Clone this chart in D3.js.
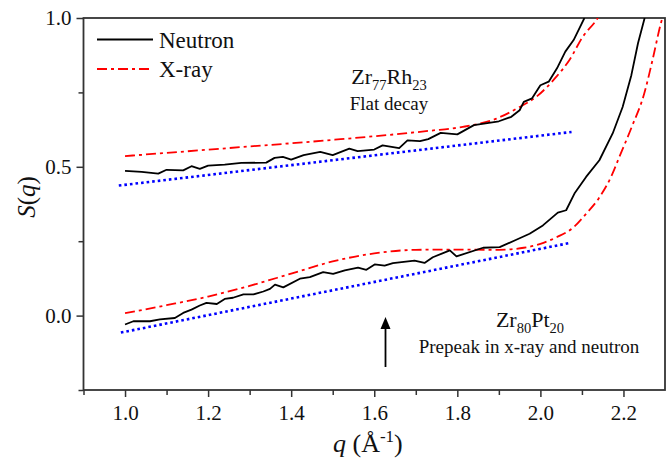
<!DOCTYPE html>
<html>
<head>
<meta charset="utf-8">
<script src="https://cdn.jsdelivr.net/npm/d3@7/dist/d3.min.js"></script>
<style>
  html, body { margin: 0; padding: 0; background: #fff; }
  svg { display: block; font-family: "Liberation Serif", "Times New Roman", serif; }
</style>
</head>
<body>
<svg id="chart" width="670" height="464"></svg>
<script>
// Axis ranges and ticks
const qDomain = [0.9, 2.3];
const sDomain = [-0.25, 1.0];
const qMajorTicks = [1.0, 1.2, 1.4, 1.6, 1.8, 2.0, 2.2];
const qMinorTicks = [0.9, 1.1, 1.3, 1.5, 1.7, 1.9, 2.1];
const sMajorTicks = [0.0, 0.5, 1.0];
const sMinorTicks = [-0.25, 0.25, 0.75];

// Zr77Rh23 — neutron S(q)
const rhNeutronQ = [1.00, 1.04, 1.08, 1.10, 1.14, 1.16, 1.18, 1.20, 1.24, 1.28, 1.34, 1.36, 1.38, 1.40, 1.43, 1.47, 1.50, 1.54, 1.56, 1.60, 1.62, 1.66, 1.68, 1.71, 1.73, 1.76, 1.80, 1.84, 1.90, 1.93, 1.95, 1.96, 1.98, 2.00, 2.02, 2.04, 2.06, 2.08, 2.106];
const rhNeutronS = [0.486, 0.483, 0.477, 0.490, 0.488, 0.502, 0.493, 0.504, 0.507, 0.513, 0.514, 0.530, 0.533, 0.524, 0.539, 0.550, 0.539, 0.561, 0.553, 0.558, 0.572, 0.563, 0.589, 0.586, 0.593, 0.614, 0.609, 0.640, 0.653, 0.668, 0.690, 0.718, 0.730, 0.774, 0.786, 0.831, 0.887, 0.926, 1.0];

// Zr77Rh23 — x-ray S(q)
const rhXrayQ = [1.00, 1.25, 1.505, 1.733, 1.813, 1.894, 1.95, 1.99, 2.038, 2.07, 2.102, 2.138, 2.15];
const rhXrayS = [0.536, 0.563, 0.591, 0.621, 0.634, 0.662, 0.701, 0.735, 0.802, 0.859, 0.937, 1.0, 1.03];

// Zr77Rh23 — linear low-q trend
const rhTrendQ = [0.985, 2.075];
const rhTrendS = [0.437, 0.617];

// Zr80Pt20 — neutron S(q)
const ptNeutronQ = [1.000, 1.020, 1.060, 1.084, 1.120, 1.140, 1.160, 1.180, 1.196, 1.221, 1.240, 1.260, 1.285, 1.309, 1.333, 1.349, 1.361, 1.381, 1.421, 1.445, 1.477, 1.501, 1.529, 1.561, 1.581, 1.601, 1.625, 1.645, 1.697, 1.721, 1.741, 1.782, 1.798, 1.862, 1.902, 1.942, 1.974, 2.006, 2.042, 2.062, 2.082, 2.110, 2.142, 2.174, 2.198, 2.219, 2.235, 2.251];
const ptNeutronS = [-0.030, -0.019, -0.019, -0.013, -0.008, 0.009, 0.020, 0.034, 0.043, 0.039, 0.056, 0.060, 0.071, 0.071, 0.081, 0.090, 0.104, 0.095, 0.124, 0.129, 0.146, 0.140, 0.152, 0.161, 0.154, 0.172, 0.168, 0.176, 0.185, 0.177, 0.196, 0.219, 0.199, 0.228, 0.230, 0.255, 0.275, 0.303, 0.346, 0.354, 0.410, 0.466, 0.522, 0.612, 0.701, 0.808, 0.915, 1.0];

// Zr80Pt20 — x-ray S(q)
const ptXrayQ = [1.00, 1.10, 1.20, 1.30, 1.40, 1.50, 1.60, 1.70, 1.80, 1.90, 1.96, 2.00, 2.04, 2.08, 2.11, 2.14, 2.17, 2.19, 2.22, 2.25, 2.27, 2.29, 2.30];
const ptXrayS = [0.008, 0.035, 0.064, 0.100, 0.141, 0.182, 0.209, 0.221, 0.222, 0.221, 0.228, 0.241, 0.264, 0.297, 0.342, 0.393, 0.466, 0.533, 0.634, 0.746, 0.859, 0.982, 1.03];

// Zr80Pt20 — linear low-q trend
const ptTrendQ = [0.99, 2.074];
const ptTrendS = [-0.057, 0.245];

// Legend entries
const legendLabels = ["Neutron", "X-ray"];

const svg = d3.select("#chart");
const frame = { left: 83.5, right: 665, top: 18, bottom: 390 };

const x = d3.scaleLinear().domain(qDomain).range([frame.left, frame.right]);
const y = d3.scaleLinear().domain(sDomain).range([frame.bottom, frame.top]);

const axisColor = "#333";
const zip = (qs, ss) => qs.map((q, i) => [q, ss[i]]);

svg.append("defs").append("clipPath").attr("id", "plot-clip")
  .append("rect")
  .attr("x", frame.left).attr("y", frame.top)
  .attr("width", frame.right - frame.left).attr("height", frame.bottom - frame.top);

// Axes with outward ticks
function styleAxis(g) {
  g.selectAll(".domain").remove();
  g.selectAll(".tick line").attr("stroke", axisColor).attr("stroke-width", 1.5);
}

const xMajor = svg.append("g").attr("transform", `translate(0,${frame.bottom})`)
  .call(d3.axisBottom(x).tickValues(qMajorTicks).tickSize(7).tickPadding(8).tickFormat(d3.format(".1f")));
styleAxis(xMajor);
xMajor.selectAll("text").attr("font-size", 21).attr("fill", "#111").attr("font-family", "Liberation Serif, serif");

const xMinor = svg.append("g").attr("transform", `translate(0,${frame.bottom})`)
  .call(d3.axisBottom(x).tickValues(qMinorTicks).tickSize(5).tickFormat(""));
styleAxis(xMinor);

const yMajor = svg.append("g").attr("transform", `translate(${frame.left},0)`)
  .call(d3.axisLeft(y).tickValues(sMajorTicks).tickSize(7).tickPadding(5).tickFormat(d3.format(".1f")));
styleAxis(yMajor);
yMajor.selectAll("text").attr("font-size", 21).attr("fill", "#111").attr("font-family", "Liberation Serif, serif");

const yMinor = svg.append("g").attr("transform", `translate(${frame.left},0)`)
  .call(d3.axisLeft(y).tickValues(sMinorTicks).tickSize(5).tickFormat(""));
styleAxis(yMinor);

// Plot frame
svg.append("rect")
  .attr("x", frame.left).attr("y", frame.top)
  .attr("width", frame.right - frame.left).attr("height", frame.bottom - frame.top)
  .attr("fill", "none").attr("stroke", axisColor).attr("stroke-width", 1.8);

const jagged = d3.line().x(d => x(d[0])).y(d => y(d[1]));
const smooth = d3.line().x(d => x(d[0])).y(d => y(d[1])).curve(d3.curveMonotoneX);

const plot = svg.append("g").attr("clip-path", "url(#plot-clip)");

const styles = {
  neutron: { stroke: "#000", width: 1.8, dash: null },
  xray: { stroke: "#ff0000", width: 1.8, dash: "10,4,3,4" },
  trend: { stroke: "#0000ff", width: 2.6, dash: "2.6,3" }
};

function drawSeries(points, gen, st) {
  plot.append("path").datum(points)
    .attr("d", gen)
    .attr("fill", "none")
    .attr("stroke", st.stroke)
    .attr("stroke-width", st.width)
    .attr("stroke-linejoin", "round")
    .attr("stroke-dasharray", st.dash);
}

drawSeries(zip(rhTrendQ, rhTrendS), jagged, styles.trend);
drawSeries(zip(ptTrendQ, ptTrendS), jagged, styles.trend);
drawSeries(zip(rhXrayQ, rhXrayS), smooth, styles.xray);
drawSeries(zip(ptXrayQ, ptXrayS), smooth, styles.xray);
drawSeries(zip(rhNeutronQ, rhNeutronS), jagged, styles.neutron);
drawSeries(zip(ptNeutronQ, ptNeutronS), jagged, styles.neutron);

// Legend
const legend = svg.append("g");
[styles.neutron, styles.xray].forEach((st, i) => {
  const ly = 39.5 + i * 29.5;
  legend.append("line")
    .attr("x1", 97).attr("x2", 153).attr("y1", ly).attr("y2", ly)
    .attr("stroke", st.stroke).attr("stroke-width", st.width)
    .attr("stroke-dasharray", st.dash);
  legend.append("text")
    .attr("x", 159).attr("y", ly + 8)
    .attr("font-size", 23).attr("fill", "#111")
    .text(legendLabels[i]);
});

// Composition labels with subscripts
function formula(xPos, yPos, parts, size) {
  const t = svg.append("text").attr("x", xPos).attr("y", yPos)
    .attr("font-size", size).attr("fill", "#111").attr("text-anchor", "middle");
  parts.forEach(p => {
    const span = t.append("tspan").text(p.text);
    if (p.sub) span.attr("font-size", size * 0.66).attr("dy", 6);
    else if (p.after) span.attr("dy", -6);
  });
}

formula(389, 84, [{ text: "Zr" }, { text: "77", sub: true }, { text: "Rh", after: true }, { text: "23", sub: true }], 22);
svg.append("text").attr("x", 389).attr("y", 110).attr("text-anchor", "middle")
  .attr("font-size", 19).attr("fill", "#111").text("Flat decay");

formula(530, 327, [{ text: "Zr" }, { text: "80", sub: true }, { text: "Pt", after: true }, { text: "20", sub: true }], 22);
svg.append("text").attr("x", 529).attr("y", 353).attr("text-anchor", "middle")
  .attr("font-size", 19).attr("fill", "#111").text("Prepeak in x-ray and neutron");

// Prepeak arrow
svg.append("line")
  .attr("x1", 385.5).attr("x2", 385.5).attr("y1", 367).attr("y2", 326)
  .attr("stroke", "#000").attr("stroke-width", 1.8);
svg.append("path")
  .attr("d", "M380.5,329 L385.5,317 L390.5,329 Z")
  .attr("fill", "#000");

// Axis titles
const yTitle = svg.append("text")
  .attr("transform", "translate(35,197) rotate(-90)")
  .attr("text-anchor", "middle").attr("font-size", 25).attr("fill", "#111");
yTitle.append("tspan").attr("font-style", "italic").text("S");
yTitle.append("tspan").text("(");
yTitle.append("tspan").attr("font-style", "italic").text("q");
yTitle.append("tspan").text(")");

const xTitle = svg.append("text")
  .attr("x", 333).attr("y", 452)
  .attr("font-size", 26).attr("fill", "#111");
xTitle.append("tspan").attr("font-style", "italic").text("q");
xTitle.append("tspan").text(" (Å");
xTitle.append("tspan").attr("font-size", 17).attr("dy", -10).text("-1");
xTitle.append("tspan").attr("dy", 10).text(")");
</script>
</body>
</html>
